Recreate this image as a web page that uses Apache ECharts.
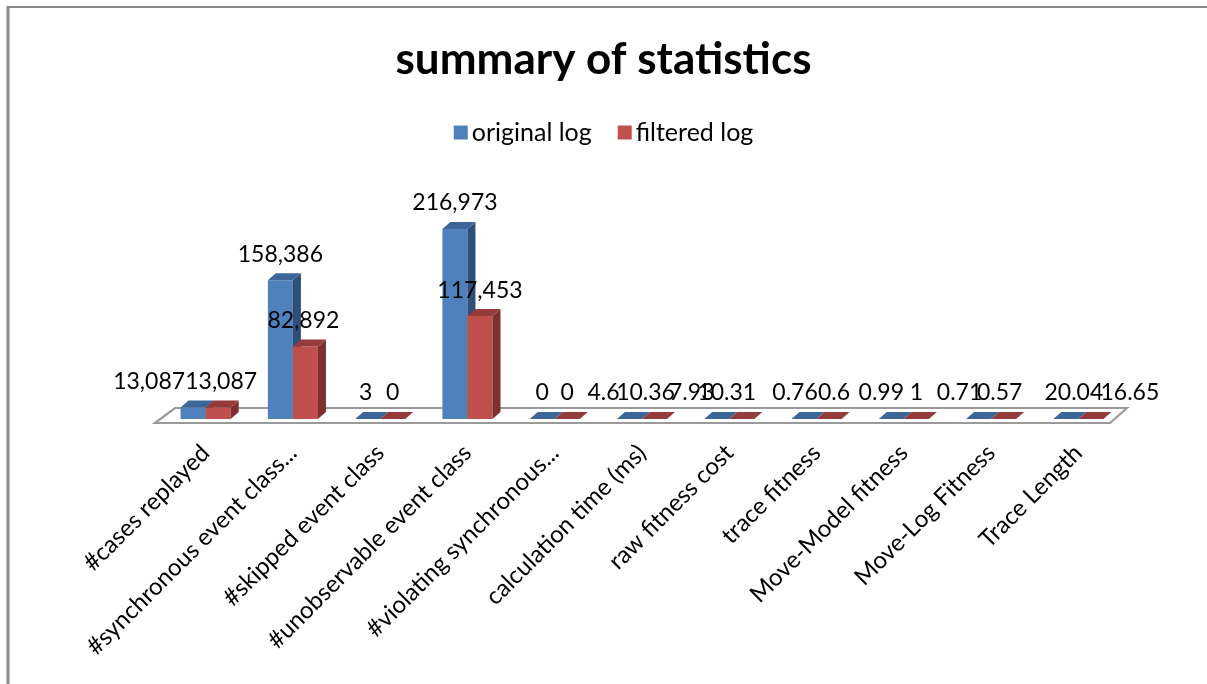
<!DOCTYPE html>
<html><head><meta charset="utf-8">
<script src="https://cdn.jsdelivr.net/npm/echarts@6/dist/echarts.min.js"></script>
<style>html,body{margin:0;padding:0;background:#fff}#c{width:1207px;height:684px}</style>
</head><body><div id="c"></div>
<script>
const categories = ['#cases replayed', '#synchronous event class...', '#skipped event class', '#unobservable event class', '#violating synchronous...', 'calculation time (ms)', 'raw fitness cost', 'trace fitness', 'Move-Model fitness', 'Move-Log Fitness', 'Trace Length'];
const originalLog = [13087, 158386, 3, 216973, 0, 4.6, 7.93, 0.76, 0.99, 0.71, 20.04];
const filteredLog = [13087, 82892, 0, 117453, 0, 10.36, 10.31, 0.6, 1, 0.57, 16.65];
const seriesNames = ['original log', 'filtered log'];

// styling / layout (not data)
const FONT = 'Lato, "Open Sans", sans-serif';
const palette = [
  {front: '#4F81BD', top: '#3D6698', side: '#2F4F77'},
  {front: '#C0504D', top: '#953B39', side: '#7E302E'}
];
const labelDx = [
  [-44, 0, -2, 0, 0, -26, -25, -9, -10, -19, 8],
  [3, -2, 0, 0, 0, -9, -15, 5, 0, -4, 39]
];
const DX = 8, DY = 7;

function fmt(v) { return v.toLocaleString('en-US', {maximumFractionDigits: 2}); }

function barRenderer(si) {
  return function (params, api) {
    const idx = api.value(0), val = api.value(1);
    const base = api.coord([idx, 0]);
    const topP = api.coord([idx, val]);
    const band = api.size([1, 0])[0];
    const w = band * 0.287;
    const x0 = si === 0 ? base[0] - w : base[0];
    const x1 = x0 + w;
    const yb = base[1], yt = topP[1];
    const c = palette[si];
    const children = [];
    if (yb - yt > 0.5) {
      children.push({type: 'rect', shape: {x: x0, y: yt, width: w, height: yb - yt}, style: {fill: c.front}});
      children.push({type: 'polygon', shape: {points: [[x1, yt], [x1 + DX, yt - DY], [x1 + DX, yb - DY], [x1, yb]]}, style: {fill: c.side}});
    }
    children.push({type: 'polygon', shape: {points: [[x0, yt], [x0 + DX, yt - DY], [x1 + DX, yt - DY], [x1, yt]]}, style: {fill: c.top}});
    children.push({type: 'text', z2: 100, style: {
      text: fmt(val), x: (x0 + x1) / 2 + labelDx[si][idx], y: yt - 26,
      align: 'center', verticalAlign: 'middle', fill: '#000',
      fontSize: 23, fontFamily: FONT
    }});
    return {type: 'group', children: children};
  };
}

function floorRenderer(params, api) {
  const cs = params.coordSys;
  const L = cs.x, R = cs.x + cs.width, B = cs.y + cs.height;
  return {type: 'polygon', shape: {points: [[L - 7, B + 4], [R - 12, B + 4], [R + 5, B - 11], [L + 13, B - 11]]},
    style: {fill: '#fff', stroke: '#9A9A9A', lineWidth: 2.2}};
}

const chart = echarts.init(document.getElementById('c'));
chart.setOption({
  animation: false,
  backgroundColor: '#fff',
  title: {text: 'summary of statistics', left: 'center', top: 33,
    textStyle: {fontSize: 44, fontWeight: 'bold', fontFamily: FONT, color: '#000'}},
  legend: {top: 115, left: 'center', itemWidth: 14, itemHeight: 14, itemGap: 26, icon: 'rect',
    data: seriesNames,
    textStyle: {fontSize: 25, fontFamily: FONT, color: '#000', padding: [0, 0, 0, -1]}},
  graphic: [
    {type: 'line', shape: {x1: 8, y1: 7, x2: 1207, y2: 7}, style: {stroke: '#8A8A8A', lineWidth: 2}},
    {type: 'line', shape: {x1: 8, y1: 6, x2: 8, y2: 684}, style: {stroke: '#8A8A8A', lineWidth: 3}}
  ],
  grid: {left: 162, right: 85, top: 200, bottom: 265, containLabel: false},
  xAxis: {type: 'category', data: categories,
    axisLine: {show: false}, axisTick: {show: false}, splitLine: {show: false},
    axisLabel: {interval: 0, rotate: 45, margin: 30, fontSize: 24, fontFamily: FONT, color: '#000'}},
  yAxis: {type: 'value', min: 0, max: 250000, show: false, splitLine: {show: false}},
  series: [
    {type: 'custom', name: 'floor', silent: true, z: 1, renderItem: floorRenderer, data: [[0, 0]]},
    {type: 'custom', name: seriesNames[0], z: 2, itemStyle: {color: palette[0].front},
      renderItem: barRenderer(0), data: originalLog.map((v, i) => [i, v])},
    {type: 'custom', name: seriesNames[1], z: 3, itemStyle: {color: palette[1].front},
      renderItem: barRenderer(1), data: filteredLog.map((v, i) => [i, v])}
  ]
});
</script>
</body></html>
